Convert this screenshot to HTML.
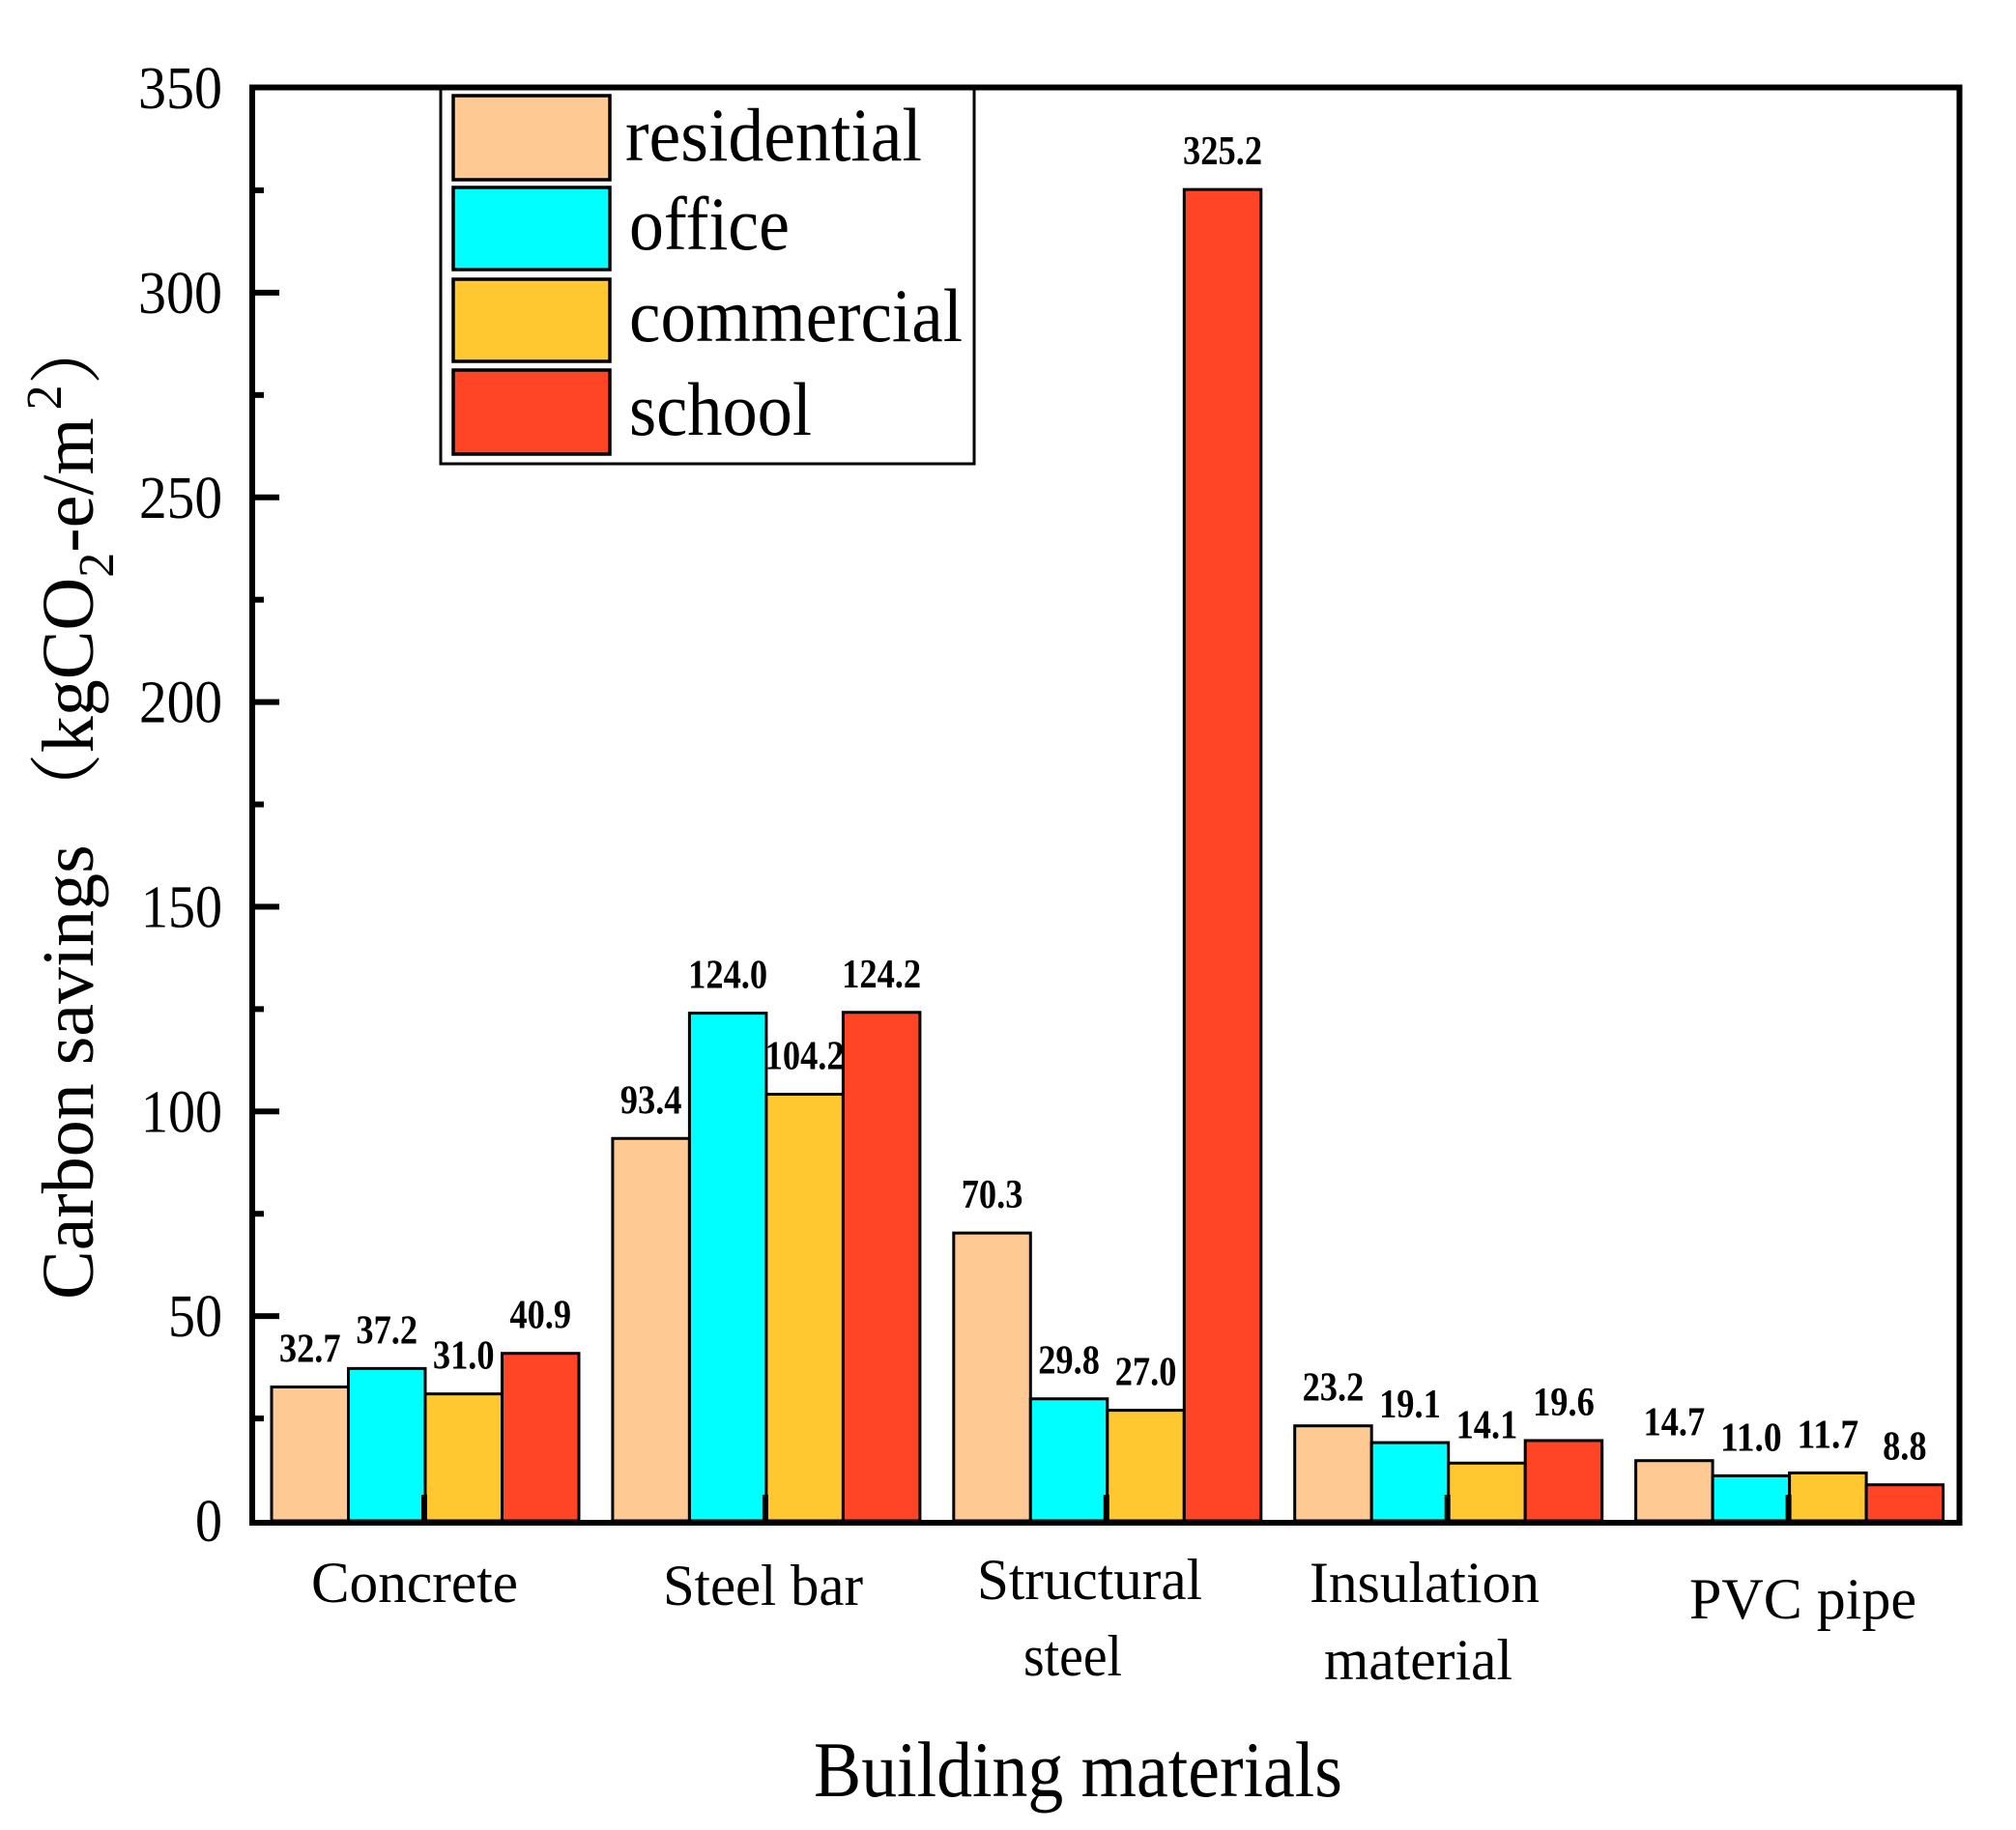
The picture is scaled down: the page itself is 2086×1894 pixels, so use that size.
<!DOCTYPE html>
<html>
<head>
<meta charset="utf-8">
<style>
  html, body { margin: 0; padding: 0; background: #ffffff; }
  svg { display: block; }
</style>
</head>
<body>
<svg xmlns="http://www.w3.org/2000/svg" width="2086" height="1894" viewBox="0 0 2086 1894">
  <rect x="0" y="0" width="2086" height="1894" fill="#ffffff"/>

  <!-- Bars + labels, series by series -->
  <g stroke="#000" stroke-width="3" stroke-linejoin="miter">
    <!-- residential -->
    <g fill="#FFC994">
      <rect x="281" y="1435.45" width="79.5" height="138.55"/>
      <rect x="633.9" y="1178.26" width="79.5" height="395.74"/>
      <rect x="986.8" y="1276.14" width="79.5" height="297.86"/>
      <rect x="1339.7" y="1475.70" width="79.5" height="98.30"/>
      <rect x="1692.6" y="1511.72" width="79.5" height="62.28"/>
    </g>
  </g>
  <g font-family="'Liberation Serif', serif" font-weight="bold" font-size="42" fill="#000" text-anchor="middle" lengthAdjust="spacingAndGlyphs">
    <text x="320.75" y="1409.45" textLength="63.7" lengthAdjust="spacingAndGlyphs">32.7</text>
    <text x="673.65" y="1152.26" textLength="63.7" lengthAdjust="spacingAndGlyphs">93.4</text>
    <text x="1026.55" y="1250.14" textLength="63.7" lengthAdjust="spacingAndGlyphs">70.3</text>
    <text x="1379.45" y="1449.70" textLength="63.7" lengthAdjust="spacingAndGlyphs">23.2</text>
    <text x="1732.35" y="1485.72" textLength="63.7" lengthAdjust="spacingAndGlyphs">14.7</text>
  </g>

  <g stroke="#000" stroke-width="3">
    <!-- office -->
    <g fill="#00FFFF">
      <rect x="360.5" y="1416.38" width="79.5" height="157.62"/>
      <rect x="713.4" y="1048.61" width="79.5" height="525.39"/>
      <rect x="1066.3" y="1447.74" width="79.5" height="126.26"/>
      <rect x="1419.2" y="1493.07" width="79.5" height="80.93"/>
      <rect x="1772.1" y="1527.39" width="79.5" height="46.61"/>
    </g>
  </g>
  <g font-family="'Liberation Serif', serif" font-weight="bold" font-size="42" fill="#000" text-anchor="middle">
    <text x="400.25" y="1390.38" textLength="63.7" lengthAdjust="spacingAndGlyphs">37.2</text>
    <text x="753.15" y="1022.61" textLength="82" lengthAdjust="spacingAndGlyphs">124.0</text>
    <text x="1106.05" y="1421.74" textLength="63.7" lengthAdjust="spacingAndGlyphs">29.8</text>
    <text x="1458.95" y="1467.07" textLength="63.7" lengthAdjust="spacingAndGlyphs">19.1</text>
    <text x="1811.85" y="1501.39" textLength="63.7" lengthAdjust="spacingAndGlyphs">11.0</text>
  </g>

  <g stroke="#000" stroke-width="3">
    <!-- commercial -->
    <g fill="#FFC730">
      <rect x="440" y="1442.65" width="79.5" height="131.35"/>
      <rect x="792.9" y="1132.50" width="79.5" height="441.50"/>
      <rect x="1145.8" y="1459.60" width="79.5" height="114.40"/>
      <rect x="1498.7" y="1514.26" width="79.5" height="59.74"/>
      <rect x="1851.6" y="1524.43" width="79.5" height="49.57"/>
    </g>
  </g>
  <g font-family="'Liberation Serif', serif" font-weight="bold" font-size="42" fill="#000" text-anchor="middle">
    <text x="479.75" y="1416.65" textLength="63.7" lengthAdjust="spacingAndGlyphs">31.0</text>
    <text x="832.65" y="1106.50" textLength="82" lengthAdjust="spacingAndGlyphs">104.2</text>
    <text x="1185.55" y="1433.60" textLength="63.7" lengthAdjust="spacingAndGlyphs">27.0</text>
    <text x="1538.45" y="1488.26" textLength="63.7" lengthAdjust="spacingAndGlyphs">14.1</text>
    <text x="1891.35" y="1498.43" textLength="63.7" lengthAdjust="spacingAndGlyphs">11.7</text>
  </g>

  <g stroke="#000" stroke-width="3">
    <!-- school -->
    <g fill="#FF4526">
      <rect x="519.5" y="1400.71" width="79.5" height="173.29"/>
      <rect x="872.4" y="1047.76" width="79.5" height="526.24"/>
      <rect x="1225.3" y="196.13" width="79.5" height="1377.87"/>
      <rect x="1578.2" y="1490.95" width="79.5" height="83.05"/>
      <rect x="1931.1" y="1536.71" width="79.5" height="37.29"/>
    </g>
  </g>
  <g font-family="'Liberation Serif', serif" font-weight="bold" font-size="42" fill="#000" text-anchor="middle">
    <text x="559.25" y="1374.71" textLength="63.7" lengthAdjust="spacingAndGlyphs">40.9</text>
    <text x="912.15" y="1021.76" textLength="82" lengthAdjust="spacingAndGlyphs">124.2</text>
    <text x="1265.05" y="170.13" textLength="82" lengthAdjust="spacingAndGlyphs">325.2</text>
    <text x="1617.95" y="1464.95" textLength="63.7" lengthAdjust="spacingAndGlyphs">19.6</text>
    <text x="1970.85" y="1510.71" textLength="45.5" lengthAdjust="spacingAndGlyphs">8.8</text>
  </g>

  <!-- x-axis ticks at group centres -->
  <g fill="#000">
    <rect x="436" y="1547" width="6" height="27"/>
    <rect x="788.9" y="1547" width="6" height="27"/>
    <rect x="1141.8" y="1547" width="6" height="27"/>
    <rect x="1494.7" y="1547" width="6" height="27"/>
    <rect x="1847.6" y="1547" width="6" height="27"/>
  </g>

  <!-- Legend -->
  <rect x="456" y="90" width="552" height="390" fill="#ffffff" stroke="#000" stroke-width="3"/>
  <g stroke="#000" stroke-width="3.5">
    <rect x="469" y="99" width="162" height="87" fill="#FFC994"/>
    <rect x="469" y="194" width="162" height="85" fill="#00FFFF"/>
    <rect x="469" y="289" width="162" height="85" fill="#FFC730"/>
    <rect x="469" y="383" width="162" height="87" fill="#FF4526"/>
  </g>
  <g font-family="'Liberation Serif', serif" font-size="78" fill="#000">
    <text x="647" y="166" textLength="307" lengthAdjust="spacingAndGlyphs">residential</text>
    <text x="651" y="258" textLength="166" lengthAdjust="spacingAndGlyphs">office</text>
    <text x="651" y="353" textLength="345" lengthAdjust="spacingAndGlyphs">commercial</text>
    <text x="651" y="450" textLength="189" lengthAdjust="spacingAndGlyphs">school</text>
  </g>

  <!-- Frame -->
  <rect x="261" y="90.5" width="1766.5" height="1485.5" fill="none" stroke="#000" stroke-width="6"/>

  <!-- y-axis ticks -->
  <g fill="#000">
    <!-- major -->
    <rect x="264" y="1359.15" width="25" height="6"/>
    <rect x="264" y="1147.3" width="25" height="6"/>
    <rect x="264" y="935.45" width="25" height="6"/>
    <rect x="264" y="723.6" width="25" height="6"/>
    <rect x="264" y="511.75" width="25" height="6"/>
    <rect x="264" y="299.9" width="25" height="6"/>
    <!-- minor -->
    <rect x="264" y="1465.08" width="9" height="6"/>
    <rect x="264" y="1253.23" width="9" height="6"/>
    <rect x="264" y="1041.38" width="9" height="6"/>
    <rect x="264" y="829.53" width="9" height="6"/>
    <rect x="264" y="617.68" width="9" height="6"/>
    <rect x="264" y="405.83" width="9" height="6"/>
    <rect x="264" y="193.98" width="9" height="6"/>
  </g>

  <!-- y tick labels -->
  <g font-family="'Liberation Serif', serif" font-size="62" fill="#000" text-anchor="end">
    <text x="230" y="1595" textLength="28" lengthAdjust="spacingAndGlyphs">0</text>
    <text x="230" y="1383.15" textLength="56" lengthAdjust="spacingAndGlyphs">50</text>
    <text x="230" y="1171.3" textLength="84" lengthAdjust="spacingAndGlyphs">100</text>
    <text x="230" y="959.45" textLength="84" lengthAdjust="spacingAndGlyphs">150</text>
    <text x="230" y="747.6" textLength="86" lengthAdjust="spacingAndGlyphs">200</text>
    <text x="230" y="535.75" textLength="86" lengthAdjust="spacingAndGlyphs">250</text>
    <text x="230" y="323.9" textLength="87" lengthAdjust="spacingAndGlyphs">300</text>
    <text x="230" y="112.05" textLength="87" lengthAdjust="spacingAndGlyphs">350</text>
  </g>

  <!-- x category labels -->
  <g font-family="'Liberation Serif', serif" font-size="60" fill="#000">
    <text x="322" y="1658" textLength="214" lengthAdjust="spacingAndGlyphs">Concrete</text>
    <text x="686" y="1661" textLength="207" lengthAdjust="spacingAndGlyphs">Steel bar</text>
    <text x="1011" y="1655" textLength="233" lengthAdjust="spacingAndGlyphs">Structural</text>
    <text x="1059" y="1734" textLength="102" lengthAdjust="spacingAndGlyphs">steel</text>
    <text x="1355" y="1658" textLength="238" lengthAdjust="spacingAndGlyphs">Insulation</text>
    <text x="1370" y="1738" textLength="195" lengthAdjust="spacingAndGlyphs">material</text>
    <text x="1748" y="1675" textLength="235" lengthAdjust="spacingAndGlyphs">PVC pipe</text>
  </g>

  <!-- x axis title -->
  <text x="842" y="1859" font-family="'Liberation Serif', serif" font-size="82" fill="#000" textLength="547" lengthAdjust="spacingAndGlyphs">Building materials</text>

  <!-- y axis title -->
  <text transform="translate(96,1345) rotate(-90)" font-family="'Liberation Serif', 'Noto Serif CJK SC', serif" font-size="76" fill="#000">Carbon savings <tspan font-family="'Noto Serif CJK SC', 'Noto Sans CJK SC', serif">（</tspan>kgCO<tspan font-size="52" dy="21">2</tspan><tspan dy="-21">-e/m</tspan><tspan font-size="52" dx="8" dy="-33">2</tspan><tspan dy="33" font-family="'Noto Serif CJK SC', 'Noto Sans CJK SC', serif">）</tspan></text>
</svg>
</body>
</html>
